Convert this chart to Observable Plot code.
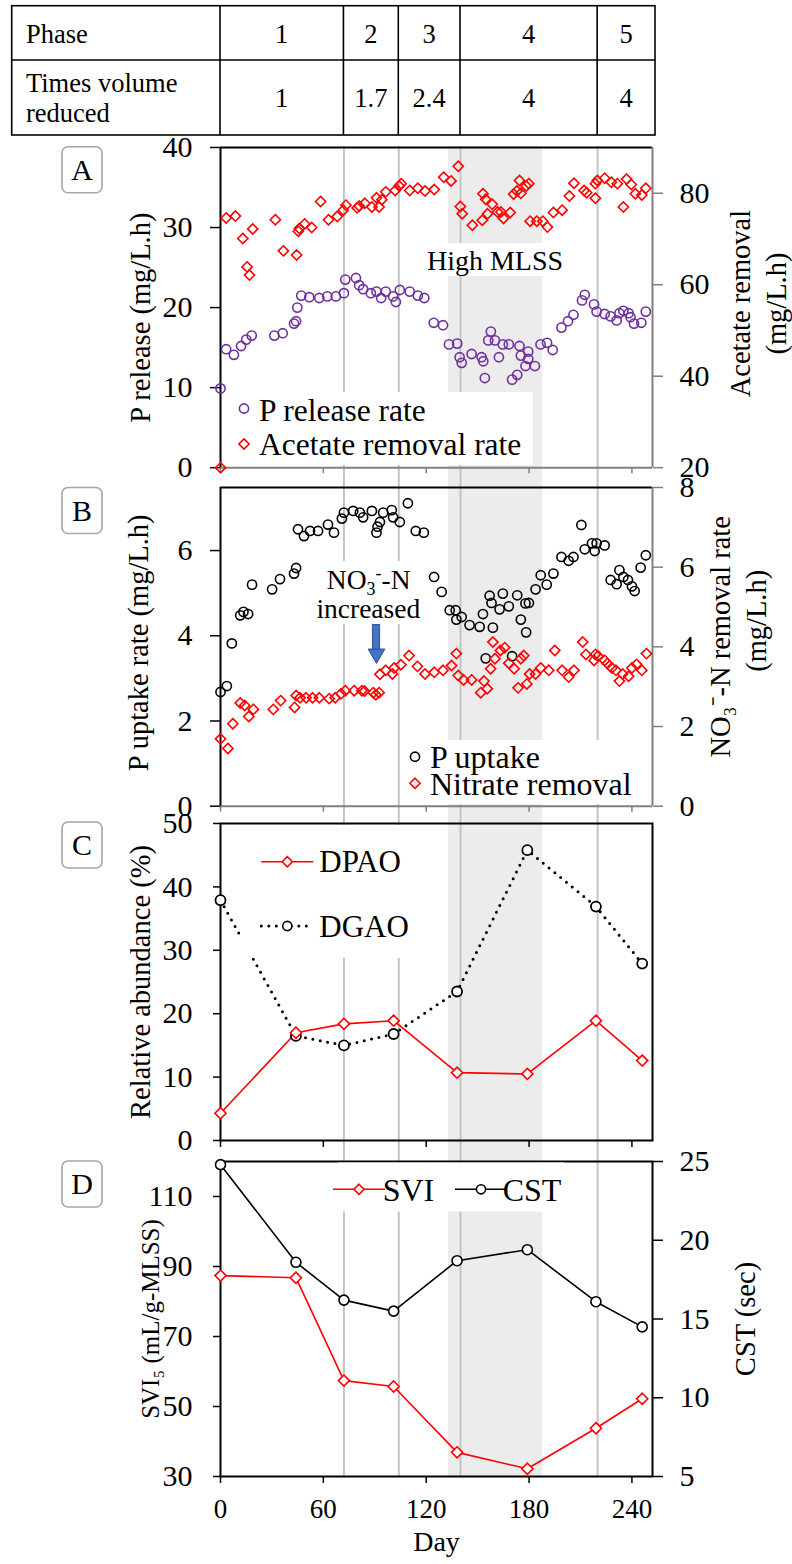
<!DOCTYPE html>
<html><head><meta charset="utf-8">
<script src="https://cdn.jsdelivr.net/npm/d3@7"></script>
<script src="https://cdn.jsdelivr.net/npm/@observablehq/plot@0.6"></script>
<style>
body{margin:0;background:#fff;}
#root{position:relative;width:792px;height:1564px;overflow:hidden;background:#fff;}
</style></head><body><div id="root"></div>
<script>
const SERIF = '"Liberation Serif","Times New Roman",Times,serif';

// ---------------- data ----------------
const tableRowLabels = ["Phase", "Times volume\nreduced"];
const phases = ["1", "2", "3", "4", "5"];
const timesVolumeReduced = ["1", "1.7", "2.4", "4", "4"];
const phaseBoundaryDays = [72, 104, 140, 220];
const highMlssDays = [133, 188];
const dayTicks = [0, 60, 120, 180, 240];

// Panel A: [day, value]
const pRelease = [[0,9.9],[3.3,14.8],[7.8,14.1],[12,15.2],[15,16.0],[18.2,16.5],[31.4,16.5],[36.3,16.8],[42.9,18.0],[44.1,18.3],[44.8,20.0],[47.1,21.5],[51.8,21.3],[57.6,21.2],[62.3,21.4],[67.3,21.4],[72,21.8],[72.8,23.5],[79,23.7],[80.9,22.8],[83.2,22.3],[87.7,21.8],[91,22.0],[93.7,21.2],[96.4,22.0],[100.7,21.4],[102.3,20.7],[104.6,22.2],[110.4,22.0],[115.1,21.5],[118.9,21.2],[124.4,18.1],[129.8,17.8],[133.3,15.4],[138.1,15.5],[139.5,13.8],[140.7,13.1],[146.5,14.2],[152.3,13.8],[153.3,13.3],[154.2,11.2],[156.2,15.9],[157.7,17.0],[160.1,15.9],[162.4,13.8],[164.7,15.4],[168.2,15.4],[170.1,11.0],[173.1,11.6],[174.4,15.2],[175.2,14.0],[177.9,12.7],[179.5,14.5],[179.5,13.6],[183.4,12.7],[186.7,15.4],[190.5,15.6],[193.8,14.7],[198.9,17.5],[202.7,18.3],[205.9,19.1],[210.9,20.9],[212.5,21.6],[217.9,20.4],[219.4,19.5],[224.1,19.2],[227.6,18.9],[231.1,18.4],[232.7,19.3],[235,19.6],[238.1,19.3],[239.2,18.8],[241.2,18.0],[245.5,18.1],[248.1,19.5]];
const acetateRemoval = [[0,20],[3.3,74.6],[8.7,75.0],[13,70.1],[15.5,63.9],[16.9,62.1],[18.8,72.2],[32,74.2],[36.7,67.4],[44.4,66.5],[45.4,71.7],[46,72.3],[49.1,73.3],[53.2,72.5],[58.4,78.2],[63,74.2],[68.1,74.9],[71.6,76.3],[73.2,77.4],[79.7,76.8],[80.9,77.2],[84.2,77.8],[88.3,77.0],[91,79.0],[92.5,77.0],[94.1,78.6],[96.4,80.3],[101.9,80.6],[104.2,81.6],[105.4,82.1],[110.4,80.6],[115.1,81.1],[119.3,80.5],[124.7,80.8],[130.2,83.5],[134.5,82.7],[138.7,85.9],[139.9,77.1],[141,75.5],[146.9,73.0],[152.7,74.1],[153.1,79.9],[154.7,78.7],[155.8,75.5],[158.5,77.6],[161.6,75.9],[163.6,75.9],[165.1,74.5],[169,75.8],[171,79.8],[172.9,80.5],[174.4,82.8],[175.2,80.0],[178.3,81.6],[179.9,82.1],[180.6,73.9],[184.5,73.9],[188,73.9],[190.7,72.6],[194.2,75.8],[199.3,76.3],[203.5,79.4],[206.2,82.2],[212.1,80.6],[213.6,80.1],[218.7,78.9],[218.7,82.1],[219.8,82.8],[224.1,83.3],[228,82.4],[231.5,82.1],[235,77.0],[236.9,83.1],[239.6,81.9],[242,79.9],[245.8,79.6],[248.1,81.1]];

// Panel B: [day, value]
const pUptake = [[0,2.68],[3.7,2.82],[6.6,3.82],[11.5,4.48],[13.4,4.56],[16.1,4.51],[18.4,5.20],[30.1,5.09],[34.7,5.33],[42.9,5.46],[44.1,5.59],[45.2,6.50],[48.7,6.34],[52.2,6.46],[56.9,6.46],[62.7,6.61],[66.2,6.42],[70.8,6.75],[72,6.89],[77.4,6.93],[81.3,6.89],[83.2,6.78],[88.3,6.93],[91,6.42],[91.6,6.56],[93,6.67],[94.9,6.89],[99.9,6.95],[100.7,6.78],[104.6,6.67],[109.3,7.11],[113.9,6.46],[118.6,6.42],[124.6,5.38],[129,5.03],[133.7,4.60],[137.2,4.60],[137.6,4.38],[140.7,4.44],[145.3,4.25],[151.2,4.21],[153.1,4.51],[154.7,3.47],[157,4.94],[158.1,4.77],[158.9,4.19],[162.8,4.62],[164.7,4.99],[168.2,4.69],[170.1,3.52],[173.1,4.95],[175.2,4.38],[177.9,4.76],[178.3,4.08],[179.9,4.77],[183.8,5.09],[186.8,5.42],[190.3,5.20],[194.2,5.46],[198.9,5.85],[203.1,5.76],[205.9,5.85],[210.5,6.60],[212.5,6.03],[216.7,6.17],[218.3,5.99],[219.4,6.17],[224.1,6.12],[227.6,5.31],[231.1,5.21],[232.7,5.54],[235,5.38],[237.7,5.31],[240,5.16],[241.6,5.05],[245.1,5.60],[248.1,5.89]];
const nitrateRemoval = [[0,1.69],[4.3,1.45],[7.2,2.07],[11.5,2.59],[14.1,2.53],[16.5,2.25],[19.2,2.43],[30.8,2.43],[35.1,2.65],[43.2,2.48],[44.1,2.78],[46.4,2.72],[49.9,2.72],[53.7,2.72],[57.6,2.72],[63.4,2.70],[66.9,2.72],[70.3,2.82],[72.8,2.90],[78,2.90],[82.5,2.90],[84,2.89],[89.1,2.85],[90.6,2.80],[92.5,2.85],[93,3.31],[96.4,3.41],[100.3,3.32],[101.3,3.47],[105.2,3.55],[110,3.78],[114.9,3.51],[119.3,3.32],[124.7,3.36],[129.8,3.41],[134.8,3.53],[137.6,3.83],[138.7,3.28],[141.8,3.17],[146.5,3.17],[151.8,2.85],[153.7,3.14],[155.6,2.95],[157.6,3.45],[158.9,4.12],[160.1,3.70],[163.3,3.91],[165.8,3.98],[168.2,3.59],[171.3,3.45],[173.6,2.97],[175.2,3.70],[176.9,3.78],[178.7,3.07],[180.3,3.32],[183.8,3.32],[186.8,3.47],[191.5,3.41],[195,3.91],[199.3,3.41],[203.1,3.24],[206.2,3.41],[211.3,4.12],[213.2,3.81],[217.9,3.66],[218.7,3.81],[220.2,3.77],[224.1,3.66],[225.7,3.58],[228.3,3.47],[230.7,3.41],[232.7,3.14],[234.6,3.32],[238.1,3.26],[240,3.47],[242.7,3.56],[245.8,3.41],[248.5,3.83]];
const nitrateIncreaseArrow = [{day: 91, start: 4.25, tip: 3.35}];

// Panels C and D
const sampleDays = [0, 44, 72, 101, 138, 179, 219, 246];
const dpao = [4.3, 17.0, 18.4, 18.9, 10.7, 10.5, 18.9, 12.6];
const dgao = [37.9, 16.5, 15.0, 16.8, 23.5, 45.8, 36.9, 27.9];
const svi = [87.4, 86.8, 57.4, 55.7, 36.9, 32.2, 43.8, 52.2];
const cst = [24.8, 18.6, 16.2, 15.5, 18.7, 19.4, 16.1, 14.5];

// ---------------- layout ----------------
const root = document.getElementById("root");
const W = 792, ML = 220, MR = 140;
const X = {domain: [0, 252], axis: null};
const RED = "#ff0000", PURPLE = "#7030a0", GRAY = "#808080";
const baseStyle = {background: "transparent", fontFamily: SERIF, fontSize: "28px", color: "black", overflow: "visible"};

function mount(el, top) {
  el.style.position = "absolute";
  el.style.left = "0px";
  el.style.top = top + "px";
  root.appendChild(el);
}
function panel({top, bottom, mt = 14, mb = 14, y, marks}) {
  const svg = Plot.plot({
    width: W, height: bottom - top + mt + mb,
    marginLeft: ML, marginRight: MR, marginTop: mt, marginBottom: mb,
    x: X, y: {...y, axis: null}, style: baseStyle, marks
  });
  mount(svg, top - mt);
}
const pts = (arr) => arr.map(([d, v]) => ({d, v}));
const series = (vals) => sampleDays.map((d, i) => ({d, v: vals[i]}));

// background: High MLSS shading and phase lines across all panels
{
  const top = 146, bottom = 1476;
  const svg = Plot.plot({
    width: W, height: bottom - top, marginLeft: ML, marginRight: MR, marginTop: 0, marginBottom: 0,
    x: X, style: baseStyle,
    marks: [
      Plot.rect([highMlssDays], {x1: d => d[0], x2: d => d[1], fill: "#ececec"}),
      Plot.ruleX(phaseBoundaryDays, {stroke: "#c4c4c4", strokeWidth: 2})
    ]
  });
  mount(svg, top);
}

const leftAxis = (ticks, tickSize = 10) => Plot.axisY({anchor: "left", ticks, tickSize, tickPadding: 28 - tickSize, tickFormat: d => String(d), fontSize: 30, strokeWidth: 1.5, label: null});
const rightAxis = (ticks, stroke = "black") => Plot.axisY({anchor: "right", ticks, tickSize: 10, tickPadding: 17, tickFormat: d => String(d), fontSize: 30, stroke, fill: "black", strokeWidth: 1.5, label: null});
const bottomTicks = (size, stroke = "black") => Plot.axisX({anchor: "bottom", ticks: dayTicks, tickSize: size, tickFormat: () => "", stroke, strokeWidth: 1.5, label: null});
const yTitle = (text, dx, dy = 0, size = 28.5, anchor = "left") => Plot.text([text], {frameAnchor: anchor, dx, dy, rotate: -90, fontSize: size, textAnchor: "middle", lineAnchor: "middle", fill: "black"});

// ---------------- Panel A ----------------
const A = {top: 146.5, bottom: 466.7};
panel({...A, y: {domain: [0, 40]}, marks: [
  Plot.ruleY([0], {stroke: GRAY, strokeWidth: 2}),
  Plot.ruleY([40], {stroke: "black", strokeWidth: 2}),
  Plot.ruleX([0], {stroke: "black", strokeWidth: 2}),
  bottomTicks(6, GRAY),
  leftAxis([0, 10, 20, 30, 40]),
  yTitle("P release (mg/L.h)", -80, 10),
  Plot.dot(pts(pRelease), {x: "d", y: "v", r: 4.6, stroke: PURPLE, strokeWidth: 1.6, fill: "none"})
]});
panel({...A, y: {domain: [20, 90]}, marks: [
  Plot.ruleX([252], {stroke: GRAY, strokeWidth: 2}),
  rightAxis([20, 40, 60, 80], GRAY),
  yTitle("Acetate removal", 88, -4, 28.5, "right"),
  yTitle("(mg/L.h)", 124.7, -4, 28.5, "right"),
  Plot.dot(pts(acetateRemoval), {x: "d", y: "v", symbol: "diamond2", r: 4.6, stroke: RED, strokeWidth: 1.6, fill: "none"})
]});

// ---------------- Panel B ----------------
const B = {top: 487.3, bottom: 806};
panel({...B, y: {domain: [0, 7.48]}, marks: [
  Plot.ruleY([0], {stroke: GRAY, strokeWidth: 2}),
  Plot.ruleY([7.48], {stroke: "black", strokeWidth: 2}),
  Plot.ruleX([0], {stroke: "black", strokeWidth: 2}),
  bottomTicks(6, GRAY),
  leftAxis([0, 2, 4, 6]),
  yTitle("P uptake rate (mg/L.h)", -82, -4),
  Plot.dot(pts(pUptake), {x: "d", y: "v", r: 4.6, stroke: "black", strokeWidth: 1.6, fill: "none"}),
  Plot.rect(nitrateIncreaseArrow, {x1: d => d.day - 2.1, x2: d => d.day + 2.1, y1: "start", y2: d => d.tip + 0.2, fill: "#4472c4", stroke: "#2f528f", strokeWidth: 1}),
  Plot.dot(nitrateIncreaseArrow, {x: "day", y: "tip", dy: -9.6, symbol: "triangle", rotate: 180, r: 6.2, fill: "#4472c4", stroke: "#2f528f", strokeWidth: 1})
]});
panel({...B, y: {domain: [0, 8]}, marks: [
  Plot.ruleX([252], {stroke: GRAY, strokeWidth: 2}),
  rightAxis([0, 2, 4, 6, 8], GRAY),
  yTitle("NO\u2083\u207B-N removal rate", 68, -10, 28.5, "right"),
  yTitle("(mg/L.h)", 104.7, -26, 28.5, "right"),
  Plot.dot(pts(nitrateRemoval), {x: "d", y: "v", symbol: "diamond2", r: 4.6, stroke: RED, strokeWidth: 1.6, fill: "none"})
]});

// ---------------- Panel C ----------------
const C = {top: 823, bottom: 1140};
panel({...C, y: {domain: [0, 50]}, marks: [
  Plot.frame({stroke: "black", strokeWidth: 2}),
  bottomTicks(7),
  leftAxis([0, 10, 20, 30, 40, 50], 7),
  yTitle("Relative abundance (%)", -80, 0),
  Plot.line(series(dgao), {x: "d", y: "v", stroke: "black", strokeWidth: 3, strokeDasharray: "0,7.5", strokeLinecap: "round"}),
  Plot.line(series(dpao), {x: "d", y: "v", stroke: RED, strokeWidth: 1.6}),
  Plot.dot(series(dgao), {x: "d", y: "v", r: 5, stroke: "black", strokeWidth: 1.8, fill: "white"}),
  Plot.dot(series(dpao), {x: "d", y: "v", symbol: "diamond2", r: 5, stroke: RED, strokeWidth: 1.6, fill: "white"})
]});

// ---------------- Panel D ----------------
const D = {top: 1161, bottom: 1476};
panel({...D, mb: 88, y: {domain: [30, 120]}, marks: [
  Plot.frame({stroke: "black", strokeWidth: 2}),
  Plot.axisX({anchor: "bottom", ticks: dayTicks, tickSize: 7, tickPadding: 15, fontSize: 27, strokeWidth: 1.5, label: null}),
  leftAxis([30, 50, 70, 90, 110], 7),
  yTitle("SVI\u2085 (mL/g-MLSS)", -70, 0, 25),
  Plot.text(["Day"], {frameAnchor: "bottom", dy: 66, lineAnchor: "middle", fontSize: 28, fill: "black"}),
  Plot.line(series(svi), {x: "d", y: "v", stroke: RED, strokeWidth: 1.6}),
  Plot.dot(series(svi), {x: "d", y: "v", symbol: "diamond2", r: 5, stroke: RED, strokeWidth: 1.6, fill: "white"})
]});
panel({...D, y: {domain: [5, 25]}, marks: [
  rightAxis([5, 10, 15, 20, 25]),
  yTitle("CST (sec)", 93, 0, 28.5, "right"),
  Plot.line(series(cst), {x: "d", y: "v", stroke: "black", strokeWidth: 1.6}),
  Plot.dot(series(cst), {x: "d", y: "v", r: 5, stroke: "black", strokeWidth: 1.6, fill: "white"})
]});

// ---------------- overlay: table, panel letters, legends, notes ----------------
const ov = d3.create("svg").attr("width", W).attr("height", 1564)
  .style("position", "absolute").style("left", "0px").style("top", "0px")
  .attr("font-family", SERIF);
mount(ov.node(), 0);

// table (columns follow the phase boundaries on the day axis)
{
  const xs = d3.scaleLinear().domain([0, 252]).range([ML, W - MR]);
  const g = ov.append("g");
  const cols = [11.7, ...[0, ...phaseBoundaryDays].map(xs), 655];
  const rows = [5.7, 60, 135];
  g.append("rect").attr("x", cols[0]).attr("y", rows[0]).attr("width", cols[6] - cols[0]).attr("height", rows[2] - rows[0])
    .attr("fill", "white").attr("stroke", "black").attr("stroke-width", 1.6);
  g.append("line").attr("x1", cols[0]).attr("x2", cols[6]).attr("y1", rows[1]).attr("y2", rows[1]).attr("stroke", "black").attr("stroke-width", 1.6);
  cols.slice(1, 6).forEach(x => g.append("line").attr("x1", x).attr("x2", x).attr("y1", rows[0]).attr("y2", rows[2]).attr("stroke", "black").attr("stroke-width", 1.6));
  g.append("text").attr("x", 26).attr("y", 43.3).attr("font-size", 26.5).text(tableRowLabels[0]);
  tableRowLabels[1].split("\n").forEach((t, i) => g.append("text").attr("x", 26).attr("y", 91.7 + i * 30).attr("font-size", 26.5).text(t));
  phases.forEach((p, i) => g.append("text").attr("x", (cols[i + 1] + cols[i + 2]) / 2).attr("y", 43.3).attr("text-anchor", "middle").attr("font-size", 26.5).text(p));
  timesVolumeReduced.forEach((p, i) => g.append("text").attr("x", (cols[i + 1] + cols[i + 2]) / 2).attr("y", 106.5).attr("text-anchor", "middle").attr("font-size", 26.5).text(p));
}

// panel letters
[["A", 146.7], ["B", 487.5], ["C", 822], ["D", 1161]].forEach(([t, y]) => {
  ov.append("rect").attr("x", 62).attr("y", y).attr("width", 40).attr("height", 46).attr("rx", 6)
    .attr("fill", "white").attr("stroke", "#a6a6a6").attr("stroke-width", 1.6);
  ov.append("text").attr("x", 82).attr("y", y + 23 + 10).attr("text-anchor", "middle").attr("font-size", 30).text(t);
});

const sym = (type, r) => d3.symbol(type, Math.PI * r * r)();
function marker(x, y, kind, color, line) {
  if (line) ov.append("line").attr("x1", x - 26).attr("x2", x + 26).attr("y1", y).attr("y2", y).attr("stroke", color)
    .attr("stroke-width", line === "dot" ? 3 : 1.6).attr("stroke-dasharray", line === "dot" ? "0,7.5" : null).attr("stroke-linecap", line === "dot" ? "round" : null);
  ov.append("path").attr("d", sym(kind === "circle" ? d3.symbolCircle : d3.symbolDiamond2, 4.6)).attr("transform", `translate(${x},${y})`)
    .attr("fill", line ? "white" : "none").attr("stroke", color).attr("stroke-width", 1.6);
}
const box = (x, y, w, h) => ov.append("rect").attr("x", x).attr("y", y).attr("width", w).attr("height", h).attr("fill", "white");
const label = (x, y, t, size, anchor = "start") => ov.append("text").attr("x", x).attr("y", y + size * 0.33).attr("font-size", size).attr("text-anchor", anchor).attr("fill", "black").text(t);

// A legend + High MLSS
box(233, 392, 300, 73);
marker(244, 408.5, "circle", PURPLE); label(259, 410.5, "P release rate", 31.5);
marker(244, 444, "diamond", RED); label(259, 445, "Acetate removal rate", 31.5);
box(420, 243, 150, 33);
label(495, 260.5, "High MLSS", 28, "middle");

// B legend + note
box(400, 740, 248, 64);
marker(415, 756.7, "circle", "black"); label(430, 757, "P uptake", 32);
marker(415, 783.3, "diamond", RED); label(430, 784.5, "Nitrate removal", 32);
box(316, 561, 105, 63);
{
  const t = ov.append("text").attr("x", 368.7).attr("y", 589.3).attr("font-size", 27.5).attr("text-anchor", "middle");
  t.append("tspan").text("NO");
  t.append("tspan").attr("font-size", 18).attr("dy", 6).text("3");
  t.append("tspan").attr("font-size", 18).attr("dy", -16).text("-");
  t.append("tspan").attr("dy", 10).text("-N");
  ov.append("text").attr("x", 368.3).attr("y", 618.3).attr("font-size", 27.5).attr("text-anchor", "middle").text("increased");
}

// C legend
box(240, 825, 180, 133);
marker(287.3, 861.7, "diamond", RED, "solid"); label(319.3, 862, "DPAO", 31);
marker(287.3, 926, "circle", "black", "dot"); label(319.3, 926.5, "DGAO", 31);

// D legend
box(338, 1162.5, 226, 49);
marker(359, 1189.3, "diamond", RED, "solid"); label(382.7, 1190, "SVI", 32);
marker(481, 1189.3, "circle", "black", "solid"); label(502.7, 1190, "CST", 32);
</script></body></html>
